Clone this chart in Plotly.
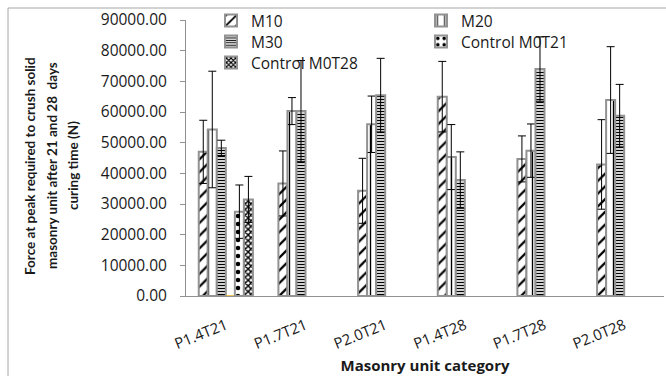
import plotly.graph_objects as go

# Masonry unit categories (x axis)
categories = ["P1.4T21", "P1.7T21", "P2.0T21", "P1.4T28", "P1.7T28", "P2.0T28"]

# Mean peak crushing force (N) and standard deviations for each mix
m10 = [47000, 36700, 34300, 65000, 44700, 42900]
m10_err = [10300, 10600, 10600, 11500, 7500, 14600]

m20 = [54300, 60300, 56000, 45300, 47400, 63900]
m20_err = [19000, 4400, 9200, 10600, 8700, 17400]

m30 = [48300, 60300, 65500, 37800, 74000, 58800]
m30_err = [2500, 16500, 12000, 9200, 10500, 10200]

blank = [0, None, None, None, None, None]

control_t21 = [27500, None, None, None, None, None]
control_t21_err = [8700, 0, 0, 0, 0, 0]

control_t28 = [31500, None, None, None, None, None]
control_t28_err = [7500, 0, 0, 0, 0, 0]

y_ticks = [0, 10000, 20000, 30000, 40000, 50000, 60000, 70000, 80000, 90000]

y_title_lines = [
    "Force at peak required to crush solid",
    "masonry unit after 21 and 28  days",
    "curing time (N)",
]

W, H = 666, 376
ML, MR, MT, MB = 186, 2, 20, 80
FONT = "Open Sans"
EDGE = "#929292"
TEXT = "#1a1a1a"


def bar(name, values, errors, shape, size, solidity, legend):
    return go.Bar(
        name=name,
        x=categories,
        y=values,
        legend=legend,
        marker=dict(
            color="white",
            line=dict(color=EDGE, width=2),
            pattern=dict(shape=shape, fgcolor="black", bgcolor="white",
                         size=size, solidity=solidity, fillmode="replace"),
        ),
        error_y=dict(type="data", array=errors, color="black",
                     thickness=1, width=4),
    )


fig = go.Figure()
fig.add_trace(bar("M10", m10, m10_err, "/", 9, 0.25, "legend"))
fig.add_trace(bar("M20", m20, m20_err, "|", 9, 0.15, "legend2"))
fig.add_trace(bar("M30", m30, m30_err, "-", 3, 0.45, "legend3"))
fig.add_trace(go.Bar(name=" ", x=categories, y=blank, showlegend=False,
                     marker=dict(color="white", line=dict(color="#e8b020", width=1))))
fig.add_trace(bar("Control M0T21", control_t21, control_t21_err, ".", 8, 0.25, "legend4"))
fig.add_trace(bar("Control M0T28", control_t28, control_t28_err, "x", 4, 0.6, "legend5"))

pw = W - ML - MR
ph = H - MT - MB


def px_x(px):
    return (px - ML) / pw


def px_y(py):
    return (H - MB - py) / ph


# outer chart frame
fig.add_shape(type="rect", xref="paper", yref="paper",
              x0=px_x(8), x1=px_x(W + 20), y0=px_y(H + 20), y1=px_y(8),
              line=dict(color="#a6a6a6", width=1), fillcolor="rgba(0,0,0,0)",
              layer="below")

# three-line vertical axis title
for line, cx in zip(y_title_lines, [30, 52, 73]):
    fig.add_annotation(text=f"<b>{line}</b>", xref="paper", yref="paper",
                       x=px_x(cx), y=px_y(166), xanchor="center", yanchor="middle",
                       textangle=-90, showarrow=False,
                       font=dict(family="Lato", size=13.5, color=TEXT))


# legend laid out as a 2-column grid, one legend box per cell
def legend_cell(col, row):
    return dict(
        orientation="v", xanchor="left", yanchor="middle",
        x=px_x([211, 421][col]), y=px_y(21 + 21 * row),
        itemwidth=30, tracegroupgap=0,
        font=dict(family=FONT, size=15.5, color=TEXT),
        bgcolor="rgba(0,0,0,0)",
    )


fig.update_layout(
    width=W, height=H,
    margin=dict(l=ML, r=MR, t=MT, b=MB, pad=0),
    paper_bgcolor="white", plot_bgcolor="white",
    font=dict(family=FONT, size=15, color=TEXT),
    barmode="group", bargap=0.32, bargroupgap=0,
    legend=legend_cell(0, 0),
    legend2=legend_cell(1, 0),
    legend3=legend_cell(0, 1),
    legend4=legend_cell(1, 1),
    legend5=legend_cell(0, 2),
    xaxis=dict(
        showline=True, linecolor=EDGE, linewidth=1,
        ticks="", tickangle=-22, ticklabelstandoff=14,
        tickfont=dict(family=FONT, size=15),
        title=dict(text="<b>Masonry unit category</b>",
                   font=dict(family=FONT, size=15), standoff=8),
        showgrid=False,
    ),
    yaxis=dict(
        range=[0, 90000], tickvals=y_ticks, tickformat=".2f",
        showline=True, linecolor=EDGE, linewidth=1,
        ticks="outside", ticklen=5, tickcolor=EDGE, ticklabelstandoff=10,
        tickfont=dict(family=FONT, size=15.5),
        showgrid=False, zeroline=False,
    ),
)

fig.write_html("out.html")
